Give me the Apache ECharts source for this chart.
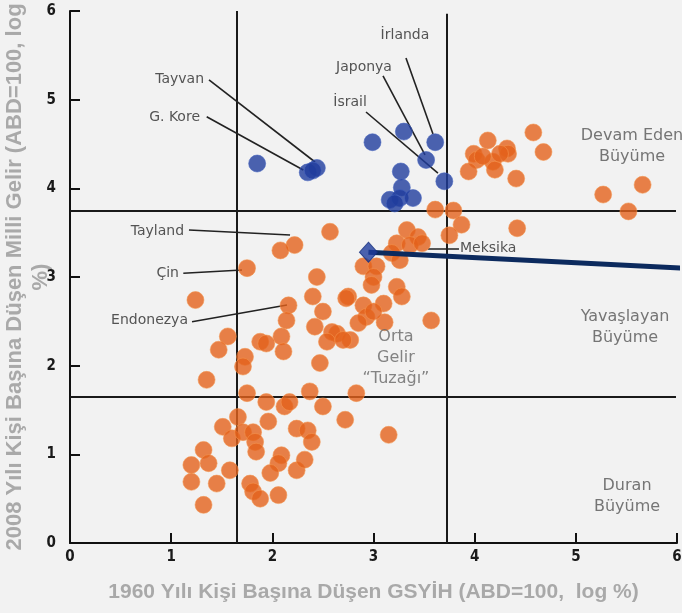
<!DOCTYPE html>
<html>
<head>
<meta charset="utf-8">
<script src="https://cdn.jsdelivr.net/npm/echarts@6/dist/echarts.min.js"></script>
<style>
html,body{margin:0;padding:0;background:#f2f2f2;}
#c{width:682px;height:613px;}
</style>
</head>
<body>
<div id="c"></div>
<script>
// ---- data (x: 1960 GDP per capita, y: 2008 national income per capita; ABD=100, log %) ----
const orangePoints = [
  [4.58,4.63],[4.68,4.41],[4.13,4.54],[4.32,4.45],[4.33,4.39],[3.99,4.39],[4.02,4.32],[4.18,4.30],
  [4.20,4.21],[3.94,4.19],[4.08,4.36],[4.25,4.39],[4.41,4.11],[5.27,3.93],[5.66,4.04],[5.52,3.74],
  [3.79,3.75],[3.87,3.59],[3.75,3.47],[4.42,3.55],[3.61,3.76],
  [3.33,3.53],[3.44,3.45],[3.23,3.38],[3.36,3.36],[3.48,3.38],[3.18,3.27],[3.26,3.19],[2.57,3.51],
  [2.90,3.12],[3.03,3.12],[3.00,3.00],[2.98,2.91],[3.23,2.89],[3.28,2.78],[2.75,2.78],[2.90,2.68],
  [3.10,2.70],[2.93,2.55],[2.85,2.48],[3.11,2.49],[2.64,2.36],[2.77,2.29],[3.57,2.51],[3.00,2.61],
  [2.22,3.36],[2.08,3.30],[1.75,3.10],[1.24,2.74],[2.16,2.68],[2.44,3.00],[2.40,2.78],[2.50,2.61],
  [2.42,2.44],[2.59,2.38],[2.54,2.27],[2.70,2.29],[2.14,2.51],[2.09,2.33],[2.11,2.16],[1.88,2.27],
  [1.94,2.25],[1.56,2.33],[1.47,2.18],[1.73,2.10],[2.47,2.03],[2.73,2.76],[1.71,1.99],
  [1.35,1.84],[1.75,1.69],[1.94,1.59],[2.12,1.54],[2.17,1.59],[2.37,1.71],[2.50,1.54],[2.72,1.39],
  [1.66,1.42],[1.51,1.31],[1.60,1.18],[1.71,1.25],[1.81,1.25],[1.83,1.14],[1.96,1.37],[1.84,1.03],
  [2.24,1.29],[2.35,1.27],[2.39,1.14],[2.09,0.99],[2.06,0.90],[1.98,0.79],[2.24,0.82],[2.32,0.94],
  [1.32,1.05],[1.20,0.88],[1.37,0.90],[1.20,0.69],[1.45,0.67],[1.58,0.82],[1.78,0.67],[1.81,0.58],
  [1.88,0.50],[2.06,0.54],[1.32,0.43],[2.83,1.69],[3.15,1.22]
];
const bluePoints = [
  [1.85,4.28],[2.35,4.18],[2.44,4.23],[2.40,4.20],[2.99,4.52],[3.30,4.64],[3.61,4.52],[3.52,4.32],
  [3.70,4.08],[3.27,4.19],[3.28,4.01],[3.16,3.87],[3.26,3.89],[3.39,3.89],[3.21,3.83]
];
const mexicoPoint = [2.95,3.28];
const mexicoTrend = [[2.95,3.28],[6.05,3.10]];

// quadrant thresholds
const splitX = [1.65, 3.72];
const splitY = [3.75, 1.65];

// tick values
const xTicks = [0,1,2,3,4,5,6];
const yTicks = [0,1,2,3,4,5,6];

// country annotations: label anchor, leader line start, leader line end
const countryNames  = ['Tayvan','G. Kore','İrlanda','Japonya','İsrail','Tayland','Çin','Endonezya','Meksika'];
const countryAnchor = [[1.325,5.233],[1.285,4.804],[3.311,5.729],[2.906,5.368],[2.768,4.974],[1.127,3.511],[1.077,3.045],[1.166,2.515],[3.855,3.327]];
const countryAlign  = ['right','right','center','center','center','right','right','right','left'];
const leaderFrom    = [[1.374,5.222],[1.351,4.808],[3.321,5.470],[3.094,5.267],[2.926,4.861],[1.176,3.530],[1.120,3.042],[1.206,2.496],[3.539,3.316]];
const leaderTo      = [[2.422,4.297],[2.306,4.207],[3.588,4.613],[3.509,4.376],[3.637,4.172],[2.175,3.473],[1.700,3.079],[2.145,2.684],[3.845,3.316]];

// region annotations
const regionNames  = ['Devam Eden\nBüyüme','Yavaşlayan\nBüyüme','Duran\nBüyüme','Orta\nGelir\n“Tuzağı”'];
const regionAnchor = [[5.555,4.477],[5.486,2.436],[5.506,0.530],[3.222,2.086]];

const xTitle = '1960 Yılı Kişi Başına Düşen GSYİH (ABD=100,  log %)';
const yTitle = '2008 Yılı Kişi Başına Düşen Milli Gelir (ABD=100, log\n%)';

// ---- chart ----
const chart = echarts.init(document.getElementById('c'), null, {renderer:'canvas'});
const xMax = xTicks[xTicks.length-1], yMax = yTicks[yTicks.length-1];

const dividerData = [
  ...splitX.map((v,i)=>({coords:[[v,0],[v, i===0 ? yMax : yMax-0.03]]})),
  ...splitY.map(v=>({coords:[[0,v],[xMax-0.01,v]]}))
];

const tickFont = {color:'#1a1a1a', fontSize:15, fontWeight:'bold', fontFamily:'"DejaVu Sans Condensed","Liberation Sans Narrow","DejaVu Sans",sans-serif'};
const titleFont = {color:'#a9a9a9', fontWeight:'bold', fontFamily:'"Liberation Sans",Arial,sans-serif'};

chart.setOption({
  backgroundColor:'#f2f2f2',
  animation:false,
  grid:{left:70, right:5, top:11, bottom:70, containLabel:false, outerBoundsMode:'none'},
  xAxis:{
    type:'value', min:xTicks[0], max:xMax, interval:1,
    name:xTitle, nameLocation:'middle', nameGap:39, nameMoveOverlap:false,
    nameTextStyle:{...titleFont, fontSize:21},
    axisLine:{lineStyle:{color:'#111', width:2}},
    axisTick:{inside:true, length:10, lineStyle:{color:'#111', width:2}},
    axisLabel:{margin:7, formatter:v=>Number.isInteger(v)?String(v):'', ...tickFont},
    splitLine:{show:false}
  },
  yAxis:{
    type:'value', min:yTicks[0], max:yMax, interval:1,
    name:yTitle, nameLocation:'middle', nameRotate:90, nameGap:16, nameMoveOverlap:false,
    nameTextStyle:{...titleFont, fontSize:22, lineHeight:26},
    axisLine:{lineStyle:{color:'#111', width:2}},
    axisTick:{inside:true, length:10, lineStyle:{color:'#111', width:2}},
    axisLabel:{margin:14, ...tickFont},
    splitLine:{show:false}
  },
  series:[
    {
      type:'lines', coordinateSystem:'cartesian2d', silent:true, z:1,
      lineStyle:{color:'#1a1a1a', width:2, opacity:1},
      data:dividerData
    },
    {
      type:'lines', coordinateSystem:'cartesian2d', silent:true, z:2,
      lineStyle:{color:'#222', width:1.6, opacity:1},
      data:leaderFrom.map((f,i)=>({coords:[f, leaderTo[i]]}))
    },
    {
      type:'scatter', z:3, symbolSize:17,
      itemStyle:{color:'#e4621b', borderColor:'rgba(245,150,80,0.7)', borderWidth:1},
      data:orangePoints
    },
    {
      type:'scatter', z:3, symbolSize:17,
      itemStyle:{color:'#1f3c9c', borderColor:'rgba(70,100,190,0.7)', borderWidth:1},
      data:bluePoints
    },
    {
      type:'line', z:4, clip:false, showSymbol:false, silent:true,
      lineStyle:{color:'#0c2a5e', width:5},
      data:mexicoTrend
    },
    {
      type:'scatter', z:5, symbol:'diamond', symbolSize:[18,20],
      itemStyle:{color:'#1f3c9c', borderColor:'#16307e', borderWidth:1},
      data:[mexicoPoint]
    },
    {
      type:'scatter', z:6, symbolSize:0, silent:true, clip:false,
      data:countryNames.map((n,i)=>({
        value:countryAnchor[i], name:n,
        label:{show:true, formatter:n,
          position: countryAlign[i]==='right' ? 'left' : (countryAlign[i]==='left' ? 'right' : 'inside'),
          distance:0, color:'#2a2a2a', fontSize:14, fontFamily:'"DejaVu Sans",sans-serif'}
      }))
    },
    {
      type:'scatter', z:6, symbolSize:0, silent:true, clip:false,
      data:regionNames.map((n,i)=>({
        value:regionAnchor[i], name:n,
        label:{show:true, formatter:n, position:'inside', align:'center',
          color: i===3 ? '#666' : '#555', fontSize:16, lineHeight:21, fontFamily:'"DejaVu Sans",sans-serif'}
      }))
    }
  ]
});
</script>
</body>
</html>
